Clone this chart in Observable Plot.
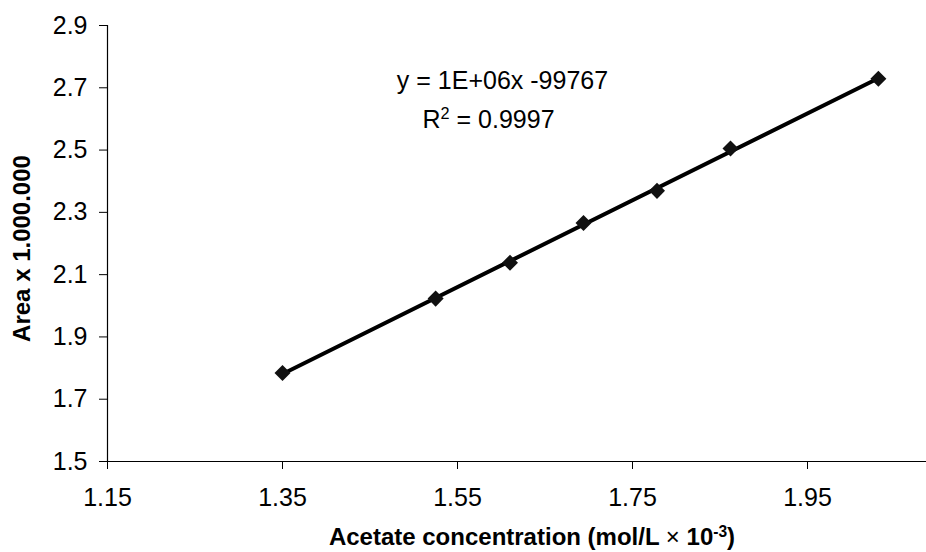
<!DOCTYPE html>
<html>
<head>
<meta charset="utf-8">
<script src="https://cdn.jsdelivr.net/npm/d3@7"></script>
<script src="https://cdn.jsdelivr.net/npm/@observablehq/plot@0.6"></script>
<style>
  html, body { margin: 0; padding: 0; background: #fff; }
  #chart svg { display: block; }
</style>
</head>
<body>
<div id="chart"></div>
<script>
// Data
const concentration = [1.35, 1.525, 1.61, 1.694, 1.778, 1.862, 2.031];
const area = [1.784, 2.023, 2.138, 2.266, 2.369, 2.505, 2.729];
const xTicks = [1.15, 1.35, 1.55, 1.75, 1.95];
const yTicks = [1.5, 1.7, 1.9, 2.1, 2.3, 2.5, 2.7, 2.9];
const equationText = "y = 1E+06x -99767";
const r2Text = "R2 = 0.9997";
const xTitle = "Acetate concentration (mol/L \u00d7 10-3)";
const yTitle = "Area x 1.000.000";

const points = concentration.map((c, i) => ({x: c, y: area[i]}));

const font = "Liberation Sans, Arial, Helvetica, sans-serif";

const chart = Plot.plot({
  width: 926,
  height: 552,
  marginLeft: 107,
  marginTop: 25,
  marginBottom: 91,
  marginRight: 0,
  style: {fontFamily: font, background: "#fff", color: "#000"},
  x: {domain: [1.15, 2.15], range: [107, 982]},
  y: {domain: [1.5, 2.9]},
  marks: [
    Plot.axisX({ticks: xTicks, tickSize: 8, tickPadding: 19, fontSize: 25, tickFormat: d => d.toFixed(2), label: null, stroke: "#000"}),
    Plot.axisY({ticks: yTicks, tickSize: 8, tickPadding: 12, fontSize: 25, tickFormat: d => d.toFixed(1), label: null, stroke: "#000"}),
    Plot.ruleY([1.5], {stroke: "#000", strokeWidth: 1.2}),
    Plot.ruleX([1.15], {stroke: "#000", strokeWidth: 1.2}),
    Plot.linearRegressionY(points, {x: "x", y: "y", stroke: "#000", strokeWidth: 4, ci: 0}),
    Plot.dot(points, {x: "x", y: "y", symbol: "square", rotate: 45, r: 6.4, fill: "#111", stroke: "none"}),
    Plot.text([equationText], {frameAnchor: "top-left", dx: 395, dy: 63, text: d => d, textAnchor: "middle", lineAnchor: "bottom", fontSize: 25, fill: "#000"}),
    Plot.text([r2Text], {frameAnchor: "top-left", dx: 381, dy: 102, text: d => d, textAnchor: "middle", lineAnchor: "bottom", fontSize: 25, fill: "#000"}),
    Plot.text([xTitle], {frameAnchor: "bottom", dx: 15, dy: 76, text: d => d, textAnchor: "middle", lineAnchor: "middle", fontSize: 24, fontWeight: "bold", fill: "#000"}),
    Plot.text([yTitle], {frameAnchor: "left", dx: -85, dy: 5, rotate: -90, text: d => d, textAnchor: "middle", lineAnchor: "middle", fontSize: 24, fontWeight: "bold", fill: "#000"})
  ]
});

// Superscripts
d3.select(chart).selectAll("text").each(function() {
  const t = this.textContent;
  const sel = d3.select(this);
  if (t === r2Text) {
    sel.text(null);
    sel.append("tspan").text("R");
    sel.append("tspan").attr("baseline-shift", "super").attr("font-size", "0.65em").text("2");
    sel.append("tspan").text(" = 0.9997");
  } else if (t === xTitle) {
    sel.text(null);
    sel.append("tspan").text("Acetate concentration (mol/L ");
    sel.append("tspan").attr("font-weight", "normal").text("\u00d7");
    sel.append("tspan").text(" 10");
    sel.append("tspan").attr("baseline-shift", "super").attr("font-size", "0.65em").text("-3");
    sel.append("tspan").text(")");
  }
});

document.getElementById("chart").appendChild(chart);
</script>
</body>
</html>
